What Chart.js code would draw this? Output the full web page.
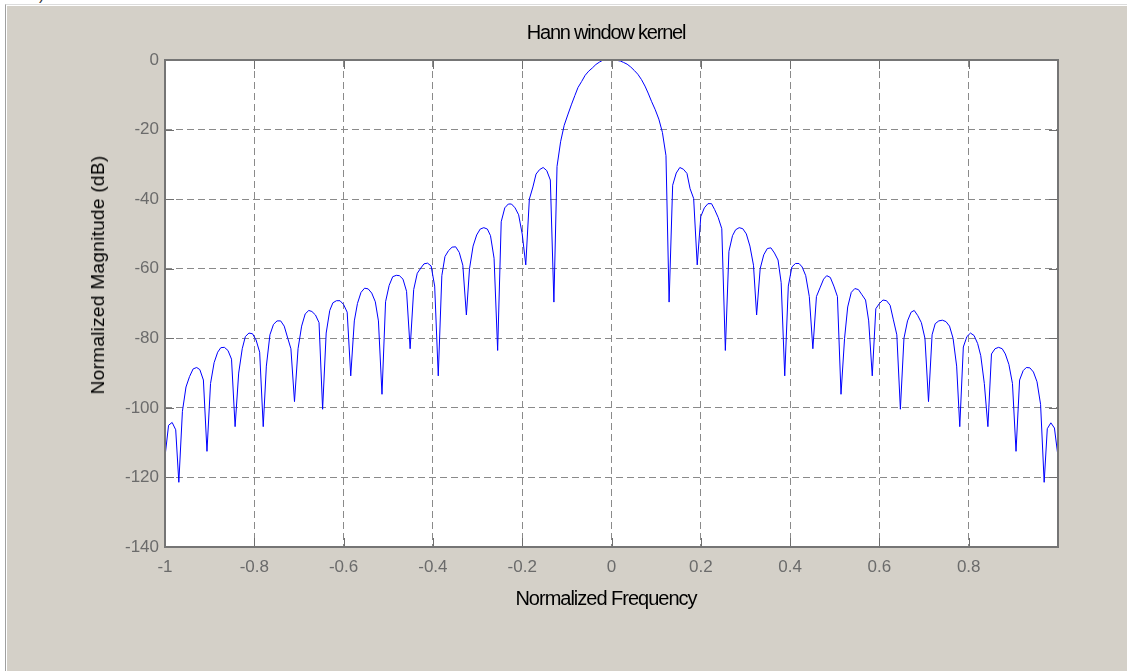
<!DOCTYPE html>
<html>
<head>
<meta charset="utf-8">
<script src="https://cdn.jsdelivr.net/npm/chart.js@4.4.1/dist/chart.umd.min.js"></script>
<style>
  html, body { margin: 0; padding: 0; background: #fff; }
  body { width: 1127px; height: 671px; position: relative; overflow: hidden; font-family: "Liberation Sans", Arial, sans-serif; }
  .frame {
    position: absolute; left: 5px; top: 4px; right: 0; bottom: 0;
    background: #d4d0c8;
    border-top: 1px solid #dcdcdc;
    border-left: 1px solid #a0a0a0;
    box-shadow: inset 1px 1px 0 #ffffff;
  }
  .wrap { position: absolute; left: 0; top: 0; width: 1127px; height: 671px; }
  .txt { position: absolute; color: #000; white-space: nowrap; }
  #title { left: 606px; top: 32px; transform: translate(-50%, -50%); font-size: 20px; letter-spacing: -1.2px; }
  #xlabel { left: 606px; top: 598px; transform: translate(-50%, -50%); font-size: 20px; letter-spacing: -1.0px; }
  #ylabel { left: 98px; top: 275px; transform: translate(-50%, -50%) rotate(-90deg); font-size: 19px; letter-spacing: 0.3px; }
  #corner { left: 39px; top: -14px; font-size: 16px; color: #333; }
</style>
</head>
<body>
<div class="frame"></div>
<span class="txt" id="corner">)</span>
<div class="wrap"><canvas id="hannChart"></canvas></div>
<div class="txt" id="title">Hann window kernel</div>
<div class="txt" id="xlabel">Normalized Frequency</div>
<div class="txt" id="ylabel">Normalized Magnitude (dB)</div>

<script>
// ---- DATA ----
// frequency bins on the positive side (outward from 0), left side mirrors the bins
const freqPos = [
  0.004, 0.012, 0.020, 0.027, 0.035, 0.043, 0.051, 0.059, 0.067, 0.075,
  0.082, 0.090, 0.098, 0.106, 0.114, 0.122, 0.129, 0.137, 0.145, 0.153,
  0.161, 0.169, 0.176, 0.184, 0.192, 0.200, 0.208, 0.216, 0.224, 0.231,
  0.239, 0.247, 0.255, 0.263, 0.271, 0.278, 0.286, 0.294, 0.302, 0.310,
  0.318, 0.325, 0.333, 0.341, 0.349, 0.357, 0.365, 0.373, 0.380, 0.388,
  0.396, 0.404, 0.412, 0.420, 0.427, 0.435, 0.443, 0.451, 0.459, 0.467,
  0.475, 0.482, 0.490, 0.498, 0.506, 0.514, 0.522, 0.529, 0.537, 0.545,
  0.553, 0.561, 0.569, 0.576, 0.584, 0.592, 0.600, 0.608, 0.616, 0.624,
  0.631, 0.639, 0.647, 0.655, 0.663, 0.671, 0.678, 0.686, 0.694, 0.702,
  0.710, 0.718, 0.725, 0.733, 0.741, 0.749, 0.757, 0.765, 0.773, 0.780,
  0.788, 0.796, 0.804, 0.812, 0.820, 0.827, 0.835, 0.843, 0.851, 0.859,
  0.867, 0.875, 0.882, 0.890, 0.898, 0.906, 0.914, 0.922, 0.929, 0.937,
  0.945, 0.953, 0.961, 0.969, 0.976, 0.984, 0.992, 1.000
];

// magnitude (dB) going right from 0
const magRightDb = [
  0, -0.1, -0.3, -0.7, -1.2, -2.0, -3.0, -4.1, -5.6, -7.5,
  -9.5, -12.0, -14.3, -17.0, -20.8, -27.5, -69.6,
  -36, -32.5, -30.9, -31.4, -32.6, -37, -39.8, -58.9,
  -45, -42.5, -41.3, -41.3, -43, -45.3, -48.5, -83.5,
  -55, -50.5, -48.8, -48.2, -48.5, -50, -53.5, -59, -73.3,
  -60, -56, -54.2, -54, -55.5, -57.5, -64, -90.8,
  -65, -59.5, -58.5, -58.5, -59.5, -62, -68, -83,
  -68, -65.5, -63, -62, -62.5, -65, -68, -96.1,
  -80, -71, -66.8, -65.7, -66, -67.5, -69, -75, -90.8,
  -71.5, -70, -69, -69.2, -70.5, -74.5, -79, -100.4,
  -80, -75, -72.5, -72, -73.5, -75.5, -80, -98.2,
  -79, -75.8, -75, -74.8, -75.2, -76.5, -80, -88, -105.4,
  -82.5, -79.5, -78.5, -79.2, -81.5, -85, -93, -105.4,
  -84.5, -83, -82.6, -83, -84.5, -87.5, -93, -112.5,
  -92, -89.3, -88.4, -88.5, -89.7, -92.5, -99, -121.4,
  -106, -104.3, -105.8, -114
];

// magnitude (dB) going left from 0
const magLeftDb = [
  0, 0, -0.1, -0.6, -1.3, -2.3, -3.2, -4.4, -6.2, -7.9,
  -10.2, -12.9, -15.8, -18.8, -23.5, -30.6, -69.6,
  -34.5, -31.8, -30.9, -31.5, -32.8, -36.5, -40, -58.9,
  -50, -44.5, -42.5, -41.4, -41.4, -42.5, -46.5, -83.5,
  -57, -50.5, -48.6, -48.2, -48.6, -50.3, -53.5, -60, -73.3,
  -59, -55.3, -53.7, -53.8, -54.8, -56.5, -62, -90.8,
  -65, -59.2, -58.4, -58.6, -59.8, -61.3, -66, -83,
  -66.5, -63, -62, -61.9, -62.3, -64.8, -69.5, -96.1,
  -75, -69.5, -67, -65.8, -65.6, -66.8, -70, -75, -90.8,
  -72.5, -70.3, -69.2, -69.2, -69.8, -72, -78.5, -100.4,
  -75.5, -73.3, -72.3, -72, -73, -76.5, -83, -98.2,
  -83, -80, -76.5, -75, -75, -76, -79, -88, -105.4,
  -84, -80.5, -78.7, -78.5, -79.5, -83, -90, -105.4,
  -86, -83.5, -82.6, -82.7, -84, -87, -93, -112.5,
  -92, -89, -88.4, -88.8, -91, -94, -101, -121.4,
  -106.3, -104.2, -105, -114
];

const xTickVals = [-1, -0.8, -0.6, -0.4, -0.2, 0, 0.2, 0.4, 0.6, 0.8];
const yTickVals = [0, -20, -40, -60, -80, -100, -120, -140];

// build the point list, left bins from the outer edge in to 0, then out to the right
const points = [];
for (let m = freqPos.length - 1; m >= 0; m--) points.push({ x: -freqPos[m], y: magLeftDb[m] });
for (let m = 0; m < freqPos.length; m++) points.push({ x: freqPos[m], y: magRightDb[m] });

// ---- PLUGINS ----
const plotBox = {
  id: 'plotBox',
  beforeDraw(chart) {
    const { ctx, chartArea: a } = chart;
    ctx.save();
    ctx.fillStyle = '#ffffff';
    ctx.fillRect(a.left, a.top, a.right - a.left, a.bottom - a.top);
    ctx.restore();
  },
  afterDraw(chart) {
    const { ctx, chartArea: a, scales } = chart;
    const tl = 9;
    ctx.save();
    ctx.strokeStyle = '#6f6f6f';
    ctx.lineWidth = 1;
    ctx.beginPath();
    xTickVals.forEach(v => {
      const px = Math.round(scales.x.getPixelForValue(v)) + 0.5;
      ctx.moveTo(px, a.bottom); ctx.lineTo(px, a.bottom - tl);
      ctx.moveTo(px, a.top); ctx.lineTo(px, a.top + tl);
    });
    yTickVals.forEach(v => {
      const py = Math.round(scales.y.getPixelForValue(v)) + 0.5;
      ctx.moveTo(a.left, py); ctx.lineTo(a.left + tl, py);
      ctx.moveTo(a.right, py); ctx.lineTo(a.right - tl, py);
    });
    ctx.stroke();
    ctx.lineWidth = 2;
    ctx.strokeStyle = '#757575';
    ctx.strokeRect(a.left, a.top, a.right - a.left, a.bottom - a.top);
    ctx.restore();
  }
};

Chart.defaults.font.family = '"Liberation Sans", Arial, sans-serif';

new Chart(document.getElementById('hannChart'), {
  type: 'line',
  data: {
    datasets: [{
      data: points,
      borderColor: '#0000ff',
      borderWidth: 1,
      pointRadius: 0,
      tension: 0,
      fill: false,
    }],
  },
  options: {
    responsive: true,
    maintainAspectRatio: false,
    animation: false,
    events: [],
    layout: { padding: { left: 0, right: 69, top: 60, bottom: 0 } },
    plugins: { legend: { display: false }, tooltip: { enabled: false } },
    scales: {
      x: {
        type: 'linear',
        min: -1,
        max: 1,
        afterFit: s => { s.height = 124; },
        afterBuildTicks: s => { s.ticks = xTickVals.map(v => ({ value: v })); },
        grid: { color: '#8a8a8a', lineWidth: 1, drawTicks: false },
        border: { display: false, dash: [7, 4] },
        ticks: {
          color: '#6b6b6b',
          font: { size: 17 },
          padding: 10,
          maxRotation: 0,
          autoSkip: false,
          callback: v => String(Math.round(v * 10) / 10),
        },
      },
      y: {
        min: -140,
        max: 0,
        afterFit: s => { s.width = 165; },
        afterBuildTicks: s => { s.ticks = yTickVals.map(v => ({ value: v })); },
        grid: { color: '#8a8a8a', lineWidth: 1, drawTicks: false },
        border: { display: false, dash: [7, 4] },
        ticks: {
          color: '#6b6b6b',
          font: { size: 17 },
          padding: 6,
          autoSkip: false,
        },
      },
    },
  },
  plugins: [plotBox],
});
</script>
</body>
</html>
